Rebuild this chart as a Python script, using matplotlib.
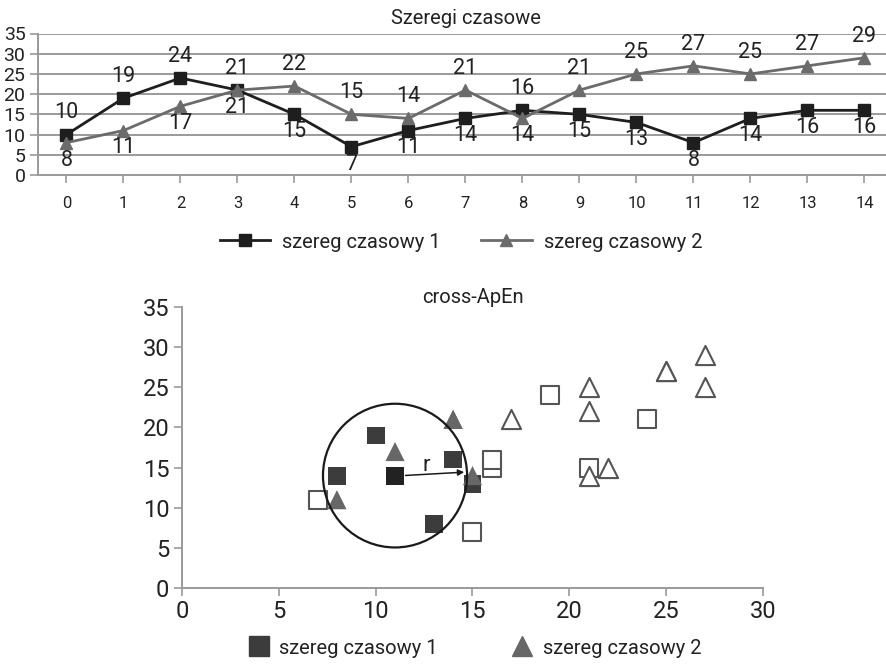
import numpy as np
import matplotlib
matplotlib.use("Agg")
import matplotlib.pyplot as plt
from matplotlib.patches import Ellipse
from matplotlib.lines import Line2D

plt.rcParams['font.family'] = ['Roboto', 'DejaVu Sans']

# dwa szeregi czasowe
czas = list(range(15))
szereg1 = [10, 19, 24, 21, 15, 7, 11, 14, 16, 15, 13, 8, 14, 16, 16]
szereg2 = [8, 11, 17, 21, 22, 15, 14, 21, 14, 21, 25, 27, 25, 27, 29]
nazwy = ["szereg czasowy 1", "szereg czasowy 2"]

# wektory (x_i, x_i+1) lezace w otoczeniu wzorca (1 = w kole)
w_kole1 = [1, 0, 0, 0, 0, 0, 1, 1, 0, 1, 1, 1, 1, 0]
w_kole2 = [1, 1, 0, 0, 0, 1, 1, 0, 1, 0, 0, 0, 0, 0]
wzorzec = 6  # indeks wektora wzorca w szeregu 1

SZARY_OS = "#9a9a9a"
TEKST = "#222222"
C1 = "#1e1e1e"
C2 = "#6b6b6b"

fig = plt.figure(figsize=(8.87, 6.64), dpi=100)

# ---------- wykres liniowy ----------
ax1 = fig.add_axes([38 / 887, 489 / 664, 855 / 887, 141.5 / 664])
ax1.set_xlim(-0.5, 14.5)
ax1.set_ylim(0, 35)
ax1.set_xticks(czas)
ax1.set_yticks(range(0, 36, 5))
ax1.grid(axis="y", color=SZARY_OS, lw=1.4)
ax1.set_axisbelow(True)
for s in ["top", "right"]:
    ax1.spines[s].set_visible(False)
for s in ["left", "bottom"]:
    ax1.spines[s].set_color(SZARY_OS)
    ax1.spines[s].set_linewidth(1.4)
ax1.tick_params(axis="y", length=6, color=SZARY_OS, width=1.2, labelsize=14,
                pad=3, labelcolor=TEKST)
ax1.tick_params(axis="x", length=6, color=SZARY_OS, width=1.2, labelsize=12,
                pad=9, labelcolor=TEKST)

ax1.plot(czas, szereg1, color=C1, lw=2, marker="s", ms=8, label=nazwy[0], zorder=3)
ax1.plot(czas, szereg2, color=C2, lw=2, marker="^", ms=8.5, label=nazwy[1], zorder=3)

# etykiety wartosci: nad punktem dla wyzszego szeregu, pod dla nizszego
for i in czas:
    for y, inny, gora_gdy_rowne in [(szereg1[i], szereg2[i], False), (szereg2[i], szereg1[i], True)]:
        gora = y > inny or (y == inny and gora_gdy_rowne)
        if gora:
            ax1.annotate(str(y), (i, y), xytext=(0, 8), textcoords="offset points",
                         ha="center", va="bottom", fontsize=15.5, color=TEKST)
        else:
            ax1.annotate(str(y), (i, y), xytext=(0, -5), textcoords="offset points",
                         ha="center", va="top", fontsize=15.5, color=TEKST)

ax1.set_title("Szeregi czasowe", fontsize=14.5, color=TEKST, pad=7)

h1, l1 = ax1.get_legend_handles_labels()
fig.legend(h1, l1, loc="center", bbox_to_anchor=(461 / 887, 1 - 242 / 664), ncol=2,
           frameon=False, fontsize=14.5, handlelength=2.5, handletextpad=0.6,
           columnspacing=2.0, labelcolor=TEKST)

# ---------- wykres cross-ApEn ----------
ax2 = fig.add_axes([182 / 887, 76 / 664, 581 / 887, 281 / 664])
ax2.set_xlim(0, 30)
ax2.set_ylim(0, 35)
ax2.set_xticks(range(0, 31, 5))
ax2.set_yticks(range(0, 36, 5))
for s in ["top", "right"]:
    ax2.spines[s].set_visible(False)
for s in ["left", "bottom"]:
    ax2.spines[s].set_color(SZARY_OS)
    ax2.spines[s].set_linewidth(1.4)
ax2.tick_params(length=6, color=SZARY_OS, width=1.2, labelsize=17, pad=3,
                labelcolor=TEKST)

x1 = np.array(szereg1[:-1])
y1 = np.array(szereg1[1:])
x2 = np.array(szereg2[:-1])
y2 = np.array(szereg2[1:])
m1 = np.array(w_kole1, dtype=bool)
m2 = np.array(w_kole2, dtype=bool)

ax2.scatter(x1[~m1], y1[~m1], marker="s", s=165, facecolor="white",
            edgecolor="#555555", lw=1.5, zorder=3)
ax2.scatter(x1[m1], y1[m1], marker="s", s=165, facecolor="#3c3c3c",
            edgecolor="none", zorder=3)
ax2.scatter([x1[wzorzec]], [y1[wzorzec]], marker="s", s=165, facecolor="#222222",
            edgecolor="none", zorder=3)
ax2.scatter(x2[~m2], y2[~m2], marker="^", s=190, facecolor="white",
            edgecolor="#555555", lw=1.5, zorder=4)
ax2.scatter(x2[m2], y2[m2], marker="^", s=190, facecolor="#676767",
            edgecolor="none", zorder=4)

# kolo o promieniu r wokol wzorca (w pikselach okragle)
cx, cy = x1[wzorzec], y1[wzorzec]
rx, ry = 3.72, 8.95
ax2.add_patch(Ellipse((cx, cy), 2 * rx, 2 * ry, fill=False, color="#1a1a1a", lw=1.6, zorder=5))
kat = 0.05
ax2.annotate("", xy=(cx + rx * np.cos(kat), cy + ry * np.sin(kat)),
             xytext=(cx + 0.4, cy),
             arrowprops=dict(arrowstyle="-|>", color="#1a1a1a", lw=1.1, mutation_scale=9),
             zorder=6)
ax2.text(cx + 1.6, cy + 1.3, "r", fontsize=16, ha="center", va="center", color=TEKST)

ax2.set_title("cross-ApEn", fontsize=14.5, color=TEKST, pad=-2)

uchwyty = [
    Line2D([], [], ls="none", marker="s", ms=14, color="#3c3c3c"),
    Line2D([], [], ls="none", marker="^", ms=15, color="#676767"),
]
fig.legend(uchwyty, nazwy, loc="center", bbox_to_anchor=(475 / 887, 1 - 648 / 664), ncol=2,
           frameon=False, fontsize=14.5, handlelength=1.0, handletextpad=0.5,
           columnspacing=3.7, labelcolor=TEKST)

fig.savefig("out.png", dpi=100)
